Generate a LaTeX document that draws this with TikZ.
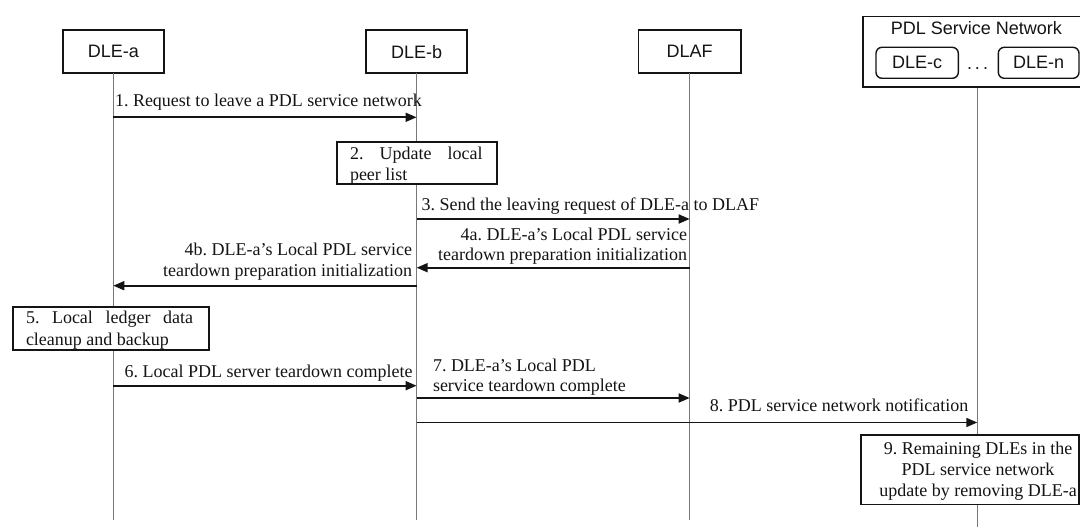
\documentclass[tikz,border=0pt]{standalone}
\usepackage{fontspec}
\setmainfont{Liberation Serif}
\newfontfamily\arialfont{Liberation Sans}
\usetikzlibrary{arrows.meta}
\definecolor{ink}{HTML}{141414}
\definecolor{lifegray}{HTML}{787878}
\frenchspacing

\begin{document}
\begin{tikzpicture}[x=1pt,y=-1pt,
  every node/.style={inner sep=0pt, outer sep=0pt, text=ink},
  actor/.style={draw=ink, line width=1.6pt, fill=white, minimum width=101pt,
    minimum height=43pt, font=\arialfont\fontsize{18}{21}\selectfont},
  peer/.style={draw=ink, line width=1.4pt, fill=white, rounded corners=6pt,
    minimum height=31pt, font=\arialfont\fontsize{18}{21}\selectfont},
  stepbox/.style={draw=ink, line width=1.6pt, fill=white},
  life/.style={draw=lifegray, line width=1.5pt},
  msg/.style={draw=ink, line width=1.7pt, -{Triangle[length=11pt,width=9pt]}},
  lbl/.style={font=\fontsize{18}{21}\selectfont},
]
\useasboundingbox (0,0) rectangle (1080,527);

% lifeline ends and message rows
\coordinate (bottom) at (0,520);
\coordinate (nl) at (977.3,87.3);
\coordinate (nlend) at (977.3,527);
\coordinate (y1) at (0,117.3);
\coordinate (y3) at (0,219);
\coordinate (y4a) at (0,267.7);
\coordinate (y4b) at (0,285.7);
\coordinate (y6) at (0,385.7);
\coordinate (y7) at (0,398);
\coordinate (y8) at (0,422.5);

% participants
\node[actor] (la) at (113.3,51.8) {DLE-a};
\node[actor] (lb) at (416.6,51.8) {DLE-b};
\node[actor, minimum width=102.3pt] (lf) at (689.7,51.8) {DLAF};

% lifelines
\draw[life] (la.south) -- (la.south |- bottom);
\draw[life] (lb.south) -- (lb.south |- bottom);
\draw[life] (lf.south) -- (lf.south |- bottom);
\draw[life] (nl) -- (nlend);

% service network group
\node[draw=ink, line width=1.6pt, anchor=north west, minimum width=232pt,
  minimum height=70.6pt] (net) at (862.7,16.7) {};
\node[anchor=base, font=\arialfont\fontsize{18}{21}\selectfont] (nettitle)
  at (976.3,35) {PDL Service Network};
\node[peer, minimum width=82.3pt] (dc) at (917.15,62.8) {DLE-c};
\node[peer, minimum width=80.7pt] (dn) at (1038.65,62.8) {DLE-n};
\node[anchor=base, font=\arialfont\fontsize{18}{21}\selectfont] (dots)
  at (977.5,70) {.\hspace{3pt}.\hspace{3pt}.};

% 1
\draw[msg] (la |- y1) -- (lb |- y1);
\node[lbl, anchor=base west] (t1) at (115,106.7) {1. Request to leave a PDL service network};

% 2
\node[stepbox, minimum width=160.3pt, minimum height=42.3pt] (s2) at (416.85,162.85) {};
\node[lbl, anchor=base west] (t2a) at (350,159) {\makebox[132.7pt][s]{2. Update local}};
\node[lbl, anchor=base west] (t2b) at (350,180) {peer list};

% 3
\draw[msg] (lb |- y3) -- (lf |- y3);
\node[lbl, anchor=base west] (t3) at (421.7,210) {3. Send the leaving request of DLE-a to DLAF};

% 4a
\draw[msg] (lf |- y4a) -- (lb |- y4a);
\node[lbl, anchor=base east] (t4a1) at (687,240) {4a. DLE-a’s Local PDL service};
\node[lbl, anchor=base east] (t4a2) at (687,260) {teardown preparation initialization};

% 4b
\draw[msg] (lb |- y4b) -- (la |- y4b);
\node[lbl, anchor=base east] (t4b1) at (412,255) {4b. DLE-a’s Local PDL service};
\node[lbl, anchor=base east] (t4b2) at (412,276.7) {teardown preparation initialization};

% 5
\node[stepbox, minimum width=196.3pt, minimum height=43.3pt] (s5) at (110.85,328.35) {};
\node[lbl, anchor=base west] (t5a) at (26,323) {\makebox[167pt][s]{5. Local ledger data}};
\node[lbl, anchor=base west] (t5b) at (26,345) {cleanup and backup};

% 6
\draw[msg] (la |- y6) -- (lb |- y6);
\node[lbl, anchor=base east] (t6) at (412.5,377.3) {6. Local PDL server teardown complete};

% 7
\draw[msg] (lb |- y7) -- (lf |- y7);
\node[lbl, anchor=base west] (t7a) at (433,371.7) {7. DLE-a’s Local PDL};
\node[lbl, anchor=base west] (t7b) at (433,391.7) {service teardown complete};

% 8
\draw[msg] (lb |- y8) -- (nl |- y8);
\node[lbl, anchor=base east] (t8) at (968.3,411.7) {8. PDL service network notification};

% 9
\node[stepbox, minimum width=218.3pt, minimum height=69.3pt] (s9) at (969.85,469.65) {};
\node[lbl, anchor=base] (t9a) at (978,454) {9. Remaining DLEs in the};
\node[lbl, anchor=base] (t9b) at (978,475.7) {PDL service network};
\node[lbl, anchor=base] (t9c) at (978,496.7) {update by removing DLE-a};
\end{tikzpicture}
\end{document}
